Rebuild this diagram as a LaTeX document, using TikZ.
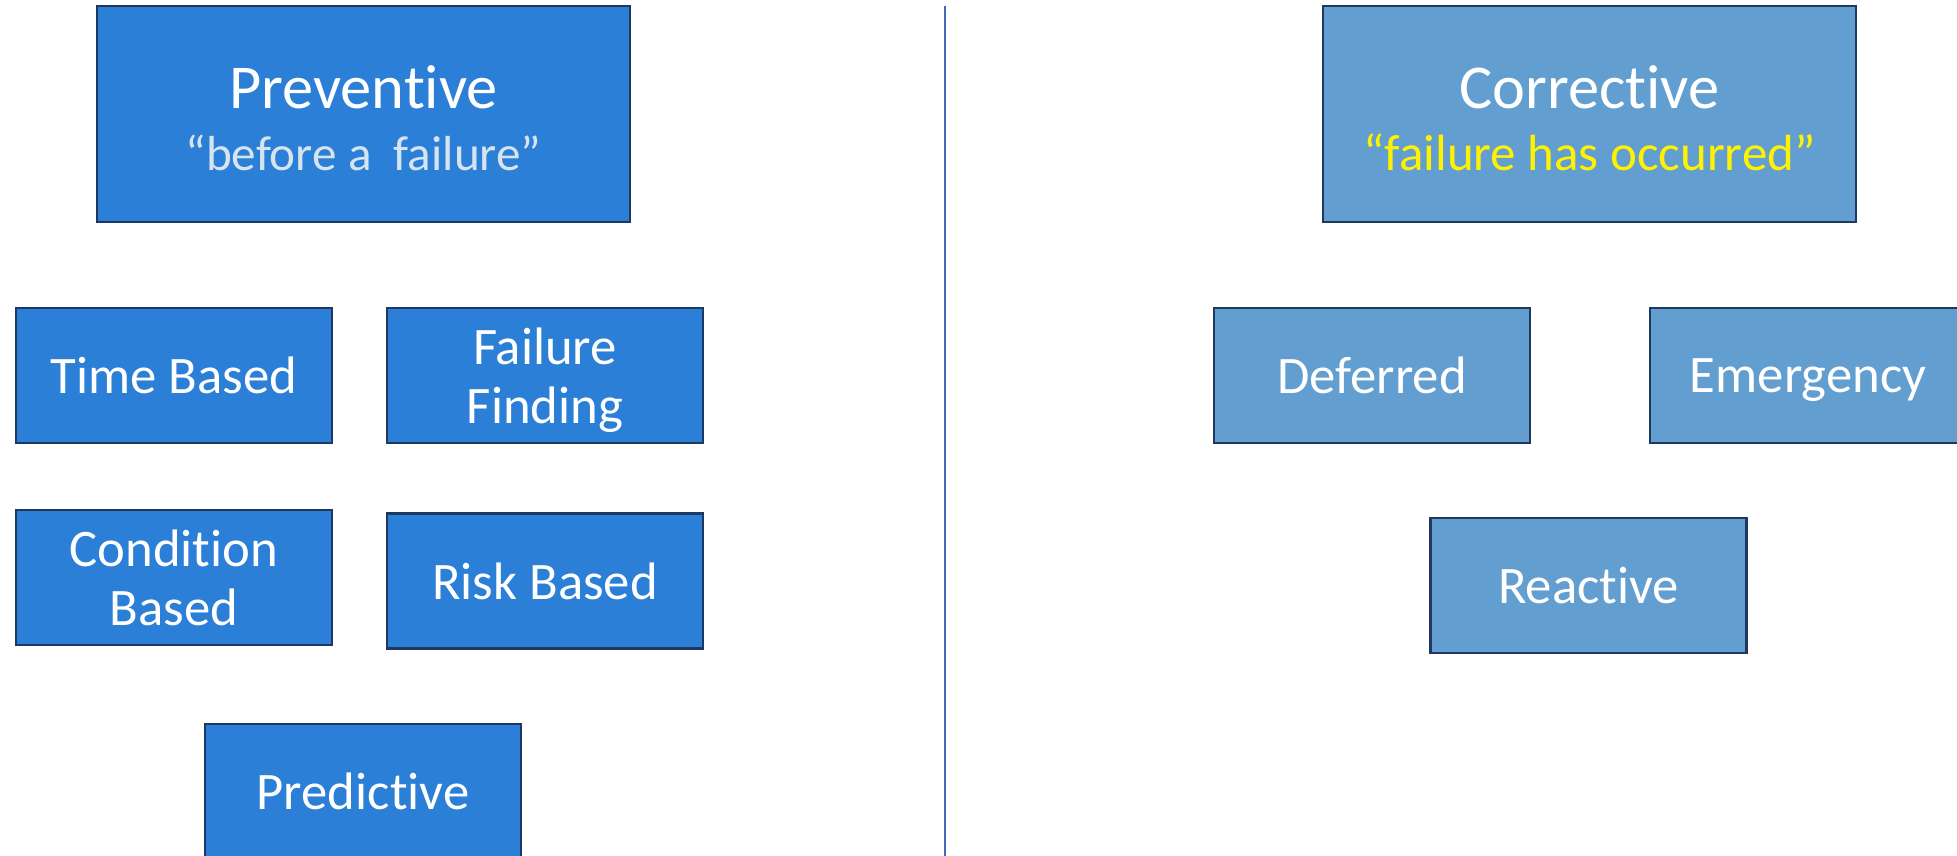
\documentclass[tikz,border=0pt]{standalone}
\usepackage{fontspec}
\setmainfont{Carlito}[Ligatures=NoCommon]
\definecolor{prevblue}{RGB}{43,127,214}
\definecolor{corrblue}{RGB}{99,158,209}
\definecolor{edgeblue}{RGB}{31,56,96}
\definecolor{subblue}{RGB}{214,228,240}
\definecolor{lineblue}{RGB}{68,104,186}
\begin{document}
\begin{tikzpicture}[inner sep=0pt,outer sep=0pt,
mainbox/.style={draw=edgeblue,rectangle,line width=1.6pt,minimum width=10.66cm,minimum height=4.32cm,align=center,text=white,font=\fontsize{28}{35}\selectfont},
subbox/.style={draw=edgeblue,rectangle,line width=1.6pt,minimum width=6.32cm,minimum height=2.70cm,align=center,text=white,font=\fontsize{30}{33.5}\selectfont,text depth=0pt}]
\useasboundingbox (0,0) rectangle (39.14,-17.12);
\clip (0,0) rectangle (39.14,-17.12);
\draw (7.27,-2.28) node[mainbox,fill=prevblue] (prev) {{\fontsize{35.5}{35}\selectfont\rule{0pt}{29pt}Preventive}\\{\color{subblue}“before a \ failure”}};
\draw (31.79,-2.28) node[mainbox,fill=corrblue] (corr) {{\fontsize{35.5}{35}\selectfont\rule{0pt}{29pt}Corrective}\\{\fontsize{29}{35}\selectfont\color{yellow}“failure has occurred”}};
\draw (3.48,-7.51) node[subbox,fill=prevblue] (time) {Time Based};
\draw (10.90,-7.51) node[subbox,fill=prevblue] (ffind) {Failure\\Finding};
\draw (3.48,-11.55) node[subbox,fill=prevblue] (cond) {Condition\\Based};
\draw (10.90,-11.62) node[subbox,fill=prevblue] (risk) {Risk Based};
\draw (7.26,-15.83) node[subbox,fill=prevblue] (pred) {Predictive};
\draw (27.44,-7.51) node[subbox,fill=corrblue] (defer) {Deferred};
\draw (36.16,-7.51) node[subbox,fill=corrblue] (emerg) {Emergency};
\draw (31.77,-11.71) node[subbox,fill=corrblue] (react) {Reactive};
\draw[lineblue,line width=1.5pt] (18.90,-0.12) -- (18.90,-17.12);
\end{tikzpicture}
\end{document}
